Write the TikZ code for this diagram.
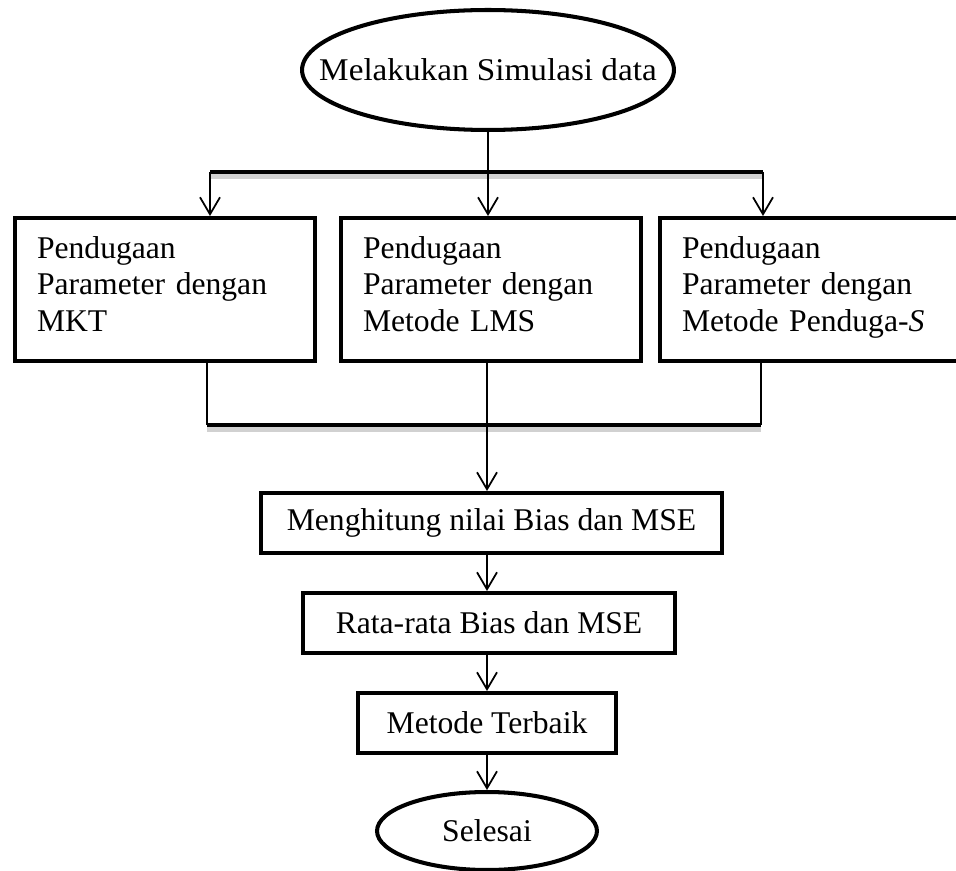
\documentclass[tikz,border=0pt]{standalone}
\usepackage{fontspec}
\setmainfont{Liberation Serif}
\newfontfamily\wideroman[FakeStretch=1.05]{Liberation Serif}
\usetikzlibrary{arrows.meta,shapes.geometric}

\tikzset{
    >={Straight Barb[length=3.4mm,width=4mm]},
    every node/.style={font=\fontsize{18pt}{20.8pt}\selectfont},
    thin line/.style={line width=1pt},
    oval/.style={ellipse,draw,line width=2.3pt,inner sep=0pt},
    box/.style={rectangle,draw,line width=2.3pt,minimum height=1.2cm},
    bigbox/.style={rectangle,draw,line width=2.3pt,minimum width=6cm,minimum height=2.86cm,
        text width=5.12cm,align=left,inner xsep=0.44cm},
    bus/.style={line width=2.3pt},
    bus shadow/.style={line width=2.6pt,black!18}
}

\begin{document}
\begin{tikzpicture}[x=0.02cm,y=-0.02cm]

        \useasboundingbox (0,0) rectangle (956,871);

        \node[oval,minimum width=7.44cm,minimum height=2.4cm,font=\fontsize{18pt}{20.8pt}\wideroman] (start) at (488,70) {\makebox[0pt]{Melakukan Simulasi data}};

        \coordinate (b1) at (210,172);
        \coordinate (b2) at (488,172);
        \coordinate (b3) at (763,172);
        \draw[bus shadow] ([yshift=-2.5pt]b1) -- ([yshift=-2.5pt]b3);
        \draw[bus] (b1) -- (b3);
        \draw[thin line] (start.south) -- (b2);

        \node[bigbox] (mkt) at (165,289.5) {Pendugaan\\Parameter dengan\\MKT\strut};
        \node[bigbox] (lms) at (491,289.5) {Pendugaan\\Parameter dengan\\Metode LMS\strut};
        \node[bigbox] (sest) at (810,289.5) {Pendugaan\\Parameter dengan\\Metode Penduga-\textit{S}\strut};

        \draw[thin line,->] (b1) -- (b1 |- mkt.north);
        \draw[thin line,->] (b2) -- (b2 |- lms.north);
        \draw[thin line,->] (b3) -- (b3 |- sest.north);

        \coordinate (c1) at (207,425);
        \coordinate (c2) at (487,425);
        \coordinate (c3) at (761,425);
        \draw[thin line] (c1 |- mkt.south) -- (c1);
        \draw[thin line] (c2 |- lms.south) -- (c2);
        \draw[thin line] (c3 |- sest.south) -- (c3);
        \draw[bus shadow] ([yshift=-2.5pt]c1) -- ([yshift=-2.5pt]c3);
        \draw[bus] (c1) -- (c3);

        \node[box,minimum width=9.22cm] (hitung) at (491.5,523) {Menghitung nilai Bias dan MSE};
        \draw[thin line,->] (c2) -- (c2 |- hitung.north);

        \node[box,minimum width=7.44cm] (rata) at (489,623) {Rata-rata Bias dan MSE};
        \draw[thin line,->] (hitung.south -| c2) -- (c2 |- rata.north);

        \node[box,minimum width=5.16cm] (terbaik) at (487,723) {Metode Terbaik};
        \draw[thin line,->] (rata.south -| c2) -- (c2 |- terbaik.north);

        \node[oval,minimum width=4.4cm,minimum height=1.56cm] (selesai) at (487,831) {Selesai};
        \draw[thin line,->] (terbaik) -- (selesai);
    \end{tikzpicture}
\end{document}
